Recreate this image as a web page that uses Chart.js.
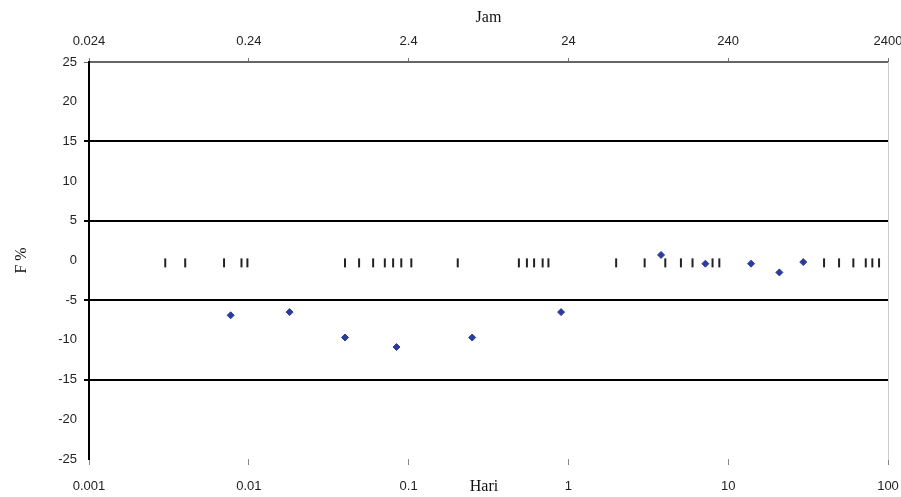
<!DOCTYPE html>
<html>
<head>
<meta charset="utf-8">
<script src="https://cdn.jsdelivr.net/npm/chart.js@4"></script>
<style>
html, body { margin: 0; padding: 0; background: #fff; }
#wrap { width: 901px; height: 497px; }
</style>
</head>
<body>
<div id="wrap"><canvas id="grafico" width="901" height="497"></canvas></div>
<script>
// ======================================
// F % vs Hari / Jam
// ======================================

// titik data (biru)
const hariTitik = [0.0077, 0.018, 0.040, 0.084, 0.25, 0.90, 3.8, 7.2, 13.9, 20.9, 29.5];
const fTitik = [-6.9, -6.5, -9.7, -10.9, -9.7, -6.5, 0.7, -0.4, -0.4, -1.5, -0.2];

// tanda garis kecil di sekitar 0
const hariTanda = [
0.003, 0.004, 0.007, 0.009, 0.0098,
0.040, 0.049, 0.060, 0.071, 0.080, 0.090, 0.104,
0.203, 0.49, 0.55, 0.61, 0.69, 0.75,
1.99, 3.0, 4.04, 5.06, 5.98, 7.98, 8.8,
39.8, 49.4, 60.7, 72.6, 79.8, 87.9
];
const fTanda = hariTanda.map(() => -0.3);

// label sumbu
const tickHari = [0.001, 0.01, 0.1, 1, 10, 100];
const labelHari = ["0.001", "0.01", "0.1", "1", "10", "100"];
const tickJam = [0.024, 0.24, 2.4, 24, 240, 2400];
const labelJam = ["0.024", "0.24", "2.4", "24", "240", "2400"];
const garisY = [15, 5, -5, -15];

const fonteTick = { family: "Liberation Sans", size: 13 };
const fonteJudul = { family: "Liberation Serif", size: 16 };

// judul "Hari" sebaris dengan label bawah
const judulHari = {
id: "judulHari",
afterDraw(chart) {
const ctx = chart.ctx;
ctx.save();
ctx.font = "16px 'Liberation Serif'";
ctx.fillStyle = "#111";
ctx.textAlign = "center";
ctx.textBaseline = "middle";
ctx.fillText("Hari", 484, 487);
ctx.restore();
}
};

const grafico = document.getElementById("grafico");

new Chart(grafico, {

type: "scatter",

data: {
datasets: [
{
label: "tanda",
data: hariTanda.map((x, i) => ({ x: x, y: fTanda[i] })),
pointStyle: "line",
rotation: 90,
radius: 4.5,
borderWidth: 2,
borderColor: "#222",
backgroundColor: "#222",
xAxisID: "x",
yAxisID: "y"
},
{
label: "F",
data: hariTitik.map((x, i) => ({ x: x, y: fTitik[i] })),
pointStyle: "rectRot",
radius: 3.5,
borderWidth: 1,
borderColor: "#2a3c9c",
backgroundColor: "#2a3c9c",
xAxisID: "x",
yAxisID: "y"
}
]
},

options: {
responsive: false,
animation: false,
layout: { padding: { left: 0, right: 13, top: 0, bottom: 0 } },
plugins: {
legend: { display: false },
tooltip: { enabled: false }
},
scales: {
x: {
type: "logarithmic",
position: "bottom",
min: 0.001,
max: 100,
afterBuildTicks: (s) => { s.ticks = tickHari.map(v => ({ value: v })); },
afterFit: (s) => { s.height = 38; s.paddingLeft = 0; s.paddingRight = 0; },
ticks: {
callback: (v, i) => labelHari[i],
font: fonteTick,
color: "#222",
padding: 14,
maxRotation: 0,
autoSkip: false
},
grid: { drawOnChartArea: false, tickLength: 6, color: "#888", lineWidth: 1 },
border: { display: false }
},
x2: {
type: "logarithmic",
position: "top",
min: 0.024,
max: 2400,
afterBuildTicks: (s) => { s.ticks = tickJam.map(v => ({ value: v })); },
afterFit: (s) => { s.height = 62; s.paddingLeft = 0; s.paddingRight = 0; },
ticks: {
callback: (v, i) => labelJam[i],
font: fonteTick,
color: "#222",
padding: 9,
maxRotation: 0,
autoSkip: false
},
grid: { drawOnChartArea: false, tickLength: 4, color: "#777", lineWidth: 1 },
border: { display: true, color: "#666", width: 1.5 },
title: { display: true, text: "Jam", font: fonteJudul, color: "#111", padding: { top: 8, bottom: 0 } }
},
y: {
type: "linear",
min: -25,
max: 25,
afterFit: (s) => { s.width = 89; },
ticks: { stepSize: 5, font: fonteTick, color: "#222", padding: 7 },
grid: {
tickLength: 5,
color: (c) => garisY.includes(c.tick.value) ? "#000" : (c.tick.value === 25 ? "#666" : "rgba(0,0,0,0)"),
lineWidth: (c) => garisY.includes(c.tick.value) ? 2 : 1
},
border: { display: true, color: "#000", width: 2 },
title: { display: true, text: "F %", font: fonteJudul, color: "#111", padding: { top: 12, bottom: 0 } }
},
yr: {
type: "linear",
position: "right",
min: -25,
max: 25,
afterFit: (s) => { s.width = 0; },
ticks: { display: false },
grid: { display: false },
border: { display: true, color: "#ccc", width: 1 }
}
}
},

plugins: [judulHari]

});
</script>
</body>
</html>
